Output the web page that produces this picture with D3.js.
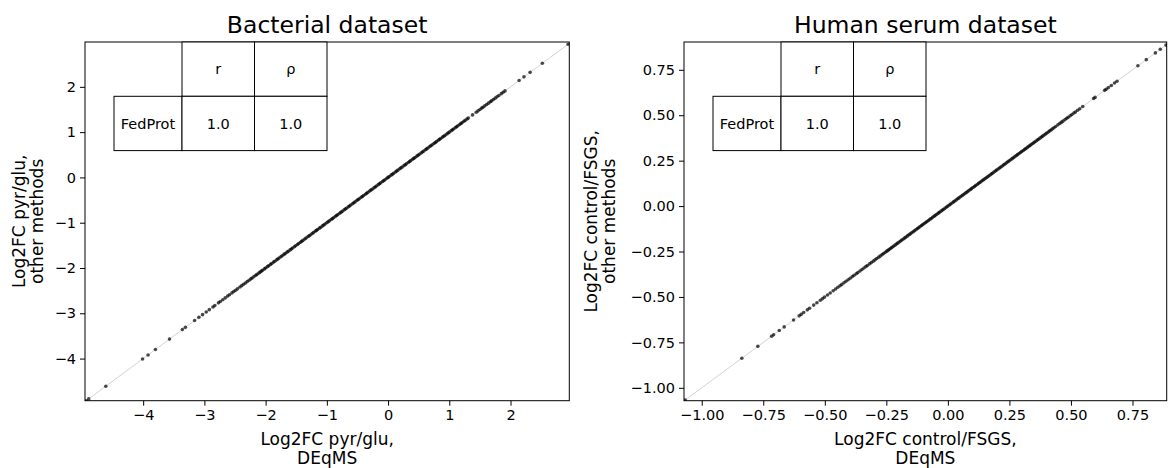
<!DOCTYPE html>
<html>
<head>
<meta charset="utf-8">
<script src="https://cdn.jsdelivr.net/npm/d3@7"></script>
<style>
  body { margin: 0; background: #fff; }
  svg { font-family: "DejaVu Sans", sans-serif; }
</style>
</head>
<body>
<div id="chart"></div>
<script>
// Log2FC values. FedProt reproduces DEqMS exactly (r = rho = 1.0),
// so the "other methods" values are the same numbers.
const bactDeqms = [
  -4.93, -4.89, -4.61, -4.01, -3.92, -3.80, -3.57, -3.36, -3.31, -3.16, -3.09, -3.03, -2.97, -2.92,
  -2.86, -2.83, -2.77, -2.74, -2.70, -2.66, -2.62, -2.59, -2.55, -2.52, -2.49, -2.46, -2.42, -2.39,
  -2.36, -2.33, -2.30, -2.27, -2.24, -2.22, -2.19, -2.16, -2.14, -2.11, -2.09, -2.07,
  -2.05, -2.02, -2.00, -1.97, -1.95, -1.92, -1.90, -1.87, -1.85, -1.82, -1.80, -1.78, -1.75, -1.73,
  -1.70, -1.68, -1.65, -1.63, -1.60, -1.58, -1.56, -1.53, -1.51, -1.48, -1.46, -1.43, -1.41, -1.39,
  -1.36, -1.34, -1.31, -1.29, -1.27, -1.24, -1.22, -1.19, -1.17, -1.15, -1.12, -1.10, -1.07, -1.05,
  -1.03, -1.00, -0.98, -0.96, -0.93, -0.91, -0.89, -0.86, -0.84, -0.82, -0.79, -0.77, -0.75, -0.72,
  -0.70, -0.68, -0.65, -0.63, -0.61, -0.58, -0.56, -0.54, -0.51, -0.49, -0.47, -0.44, -0.42, -0.40,
  -0.37, -0.35, -0.33, -0.30, -0.28, -0.26, -0.23, -0.21, -0.19, -0.16, -0.14, -0.12, -0.09, -0.07,
  -0.05, -0.02, 0.00, 0.02, 0.05, 0.07, 0.09, 0.12, 0.14, 0.16, 0.19, 0.21, 0.23, 0.26, 0.28, 0.30,
  0.33, 0.35, 0.37, 0.40, 0.42, 0.44, 0.47, 0.49, 0.51, 0.54, 0.56, 0.58, 0.61, 0.63, 0.65, 0.68,
  0.70, 0.72, 0.75, 0.77, 0.79, 0.82, 0.84, 0.86, 0.89, 0.91, 0.93, 0.96, 0.98, 1.00, 1.03, 1.05,
  1.07, 1.10, 1.12, 1.14, 1.17, 1.19, 1.21, 1.24, 1.26, 1.29, 1.31,
  1.38, 1.44, 1.47, 1.50, 1.53, 1.55, 1.58, 1.61, 1.64, 1.67, 1.69, 1.72, 1.75, 1.78, 1.81, 1.85,
  1.88, 1.91, 2.14, 2.22, 2.32, 2.52, 2.94
];
const bactOther = bactDeqms;

const humanDeqms = [
  -1.067, -0.837, -0.772, -0.716, -0.708, -0.685, -0.665, -0.627, -0.604, -0.596, -0.586, -0.571,
  -0.562, -0.545, -0.532, -0.518, -0.509, -0.501, -0.489, -0.478, -0.466, -0.456, -0.447, -0.438,
  -0.431, -0.422, -0.414, -0.405, -0.397, -0.388, -0.381, -0.372, -0.366, -0.357, -0.349, -0.341,
  -0.333, -0.327, -0.318, -0.311, -0.303, -0.296, -0.289, -0.281, -0.274, -0.267, -0.261, -0.254,
  -0.248, -0.243, -0.238, -0.232, -0.227, -0.221, -0.215, -0.209, -0.204, -0.198, -0.192, -0.187,
  -0.181, -0.175, -0.170, -0.164, -0.158, -0.153, -0.147, -0.141, -0.136, -0.130, -0.124, -0.119,
  -0.113, -0.107, -0.102, -0.096, -0.090, -0.085, -0.079, -0.073, -0.068, -0.062, -0.056, -0.051,
  -0.045, -0.039, -0.034, -0.028, -0.022, -0.017, -0.011, -0.005, 0.000, 0.006, 0.011, 0.017,
  0.023, 0.028, 0.034, 0.040, 0.045, 0.051, 0.057, 0.062, 0.068, 0.074, 0.079, 0.085, 0.091,
  0.096, 0.102, 0.108, 0.113, 0.119, 0.125, 0.130, 0.136, 0.142, 0.147, 0.153, 0.159, 0.164,
  0.170, 0.176, 0.181, 0.187, 0.193, 0.198, 0.204, 0.210, 0.215, 0.221, 0.227, 0.232, 0.238,
  0.244, 0.249, 0.255, 0.261, 0.266, 0.272, 0.278, 0.283, 0.289, 0.295, 0.300, 0.306, 0.312,
  0.317, 0.323, 0.329, 0.334, 0.340, 0.346, 0.351, 0.357, 0.363, 0.368, 0.374, 0.380, 0.385,
  0.391, 0.397, 0.402, 0.408, 0.414, 0.419, 0.425, 0.431, 0.438, 0.447, 0.455, 0.462, 0.468,
  0.476, 0.483, 0.489, 0.497, 0.504, 0.512, 0.518, 0.527, 0.536, 0.548, 0.592, 0.598, 0.637,
  0.643, 0.652, 0.664, 0.677, 0.687, 0.772, 0.806, 0.843, 0.863, 0.886
];
const humanOther = humanDeqms;

const bactTicks = [-4, -3, -2, -1, 0, 1, 2];
const humanTicks = [-1.00, -0.75, -0.50, -0.25, 0.00, 0.25, 0.50, 0.75];

const tableCols = ["", "r", "ρ"];
const tableRow = ["FedProt", "1.0", "1.0"];

const panels = [
  {
    title: "Bacterial dataset",
    x: bactDeqms, y: bactOther,
    xDomain: [-4.95, 2.96], yDomain: [-4.93, 2.99],
    ticks: bactTicks, fmt: d3.format("d"),
    xLabel: ["Log2FC pyr/glu,", "DEqMS"],
    yLabel: ["Log2FC pyr/glu,", "other methods"],
    yLabelX: 24.5,
    left: 85, right: 569.3
  },
  {
    title: "Human serum dataset",
    x: humanDeqms, y: humanOther,
    xDomain: [-1.072, 0.889], yDomain: [-1.071, 0.903],
    ticks: humanTicks, fmt: d3.format(".2f"),
    xLabel: ["Log2FC control/FSGS,", "DEqMS"],
    yLabel: ["Log2FC control/FSGS,", "other methods"],
    yLabelX: 596.5,
    left: 684, right: 1166.7
  }
];

const width = 1169, height = 468;
const plotTop = 42, plotBottom = 400.7;
const tickFont = "14.5px";

const svg = d3.select("#chart").append("svg")
  .attr("width", width)
  .attr("height", height);

panels.forEach((p, i) => {
  let xScale = d3.scaleLinear().domain(p.xDomain).range([p.left, p.right]);
  let yScale = d3.scaleLinear().domain(p.yDomain).range([plotBottom, plotTop]);

  let g = svg.append("g");

  g.append("clipPath").attr("id", "clip" + i)
    .append("rect")
      .attr("x", p.left).attr("y", plotTop)
      .attr("width", p.right - p.left).attr("height", plotBottom - plotTop);

  let plot = g.append("g").attr("clip-path", "url(#clip" + i + ")");

  // identity line
  let lo = Math.min(p.xDomain[0], p.yDomain[0]) - 1;
  let hi = Math.max(p.xDomain[1], p.yDomain[1]) + 1;
  plot.append("line")
    .attr("x1", xScale(lo)).attr("y1", yScale(lo))
    .attr("x2", xScale(hi)).attr("y2", yScale(hi))
    .attr("stroke", "#c8c8c8")
    .attr("stroke-width", 0.8);

  plot.selectAll("circle")
    .data(p.x.map((v, k) => [v, p.y[k]]))
    .enter().append("circle")
      .attr("cx", d => xScale(d[0]))
      .attr("cy", d => yScale(d[1]))
      .attr("r", 1.8)
      .attr("fill", "#000")
      .attr("fill-opacity", 0.7);

  // axes
  let xAxis = d3.axisBottom(xScale).tickValues(p.ticks).tickFormat(p.fmt).tickSize(5).tickPadding(4);
  let yAxis = d3.axisLeft(yScale).tickValues(p.ticks).tickFormat(p.fmt).tickSize(5).tickPadding(4);

  let xg = g.append("g")
    .attr("transform", "translate(0," + plotBottom + ")")
    .call(xAxis);
  let yg = g.append("g")
    .attr("transform", "translate(" + p.left + ",0)")
    .call(yAxis);

  [xg, yg].forEach(a => {
    a.select(".domain").remove();
    a.selectAll("line").attr("stroke", "#000").attr("stroke-width", 1);
    a.selectAll("text")
      .attr("fill", "#000")
      .style("font-size", tickFont)
      .style("font-family", "DejaVu Sans");
  });

  // frame
  g.append("rect")
    .attr("x", p.left).attr("y", plotTop)
    .attr("width", p.right - p.left).attr("height", plotBottom - plotTop)
    .attr("fill", "none")
    .attr("stroke", "#000")
    .attr("stroke-width", 1);

  let cx = (p.left + p.right) / 2;
  let cy = (plotTop + plotBottom) / 2;

  g.append("text")
    .attr("x", cx).attr("y", 33)
    .attr("text-anchor", "middle")
    .style("font-size", "23.5px")
    .text(p.title);

  g.selectAll(".xlab")
    .data(p.xLabel)
    .enter().append("text")
      .attr("x", cx)
      .attr("y", (d, k) => 445 + k * 19)
      .attr("text-anchor", "middle")
      .style("font-size", "17px")
      .text(d => d);

  g.selectAll(".ylab")
    .data(p.yLabel)
    .enter().append("text")
      .attr("transform", (d, k) => "translate(" + (p.yLabelX + k * 18.5) + "," + cy + ") rotate(-90)")
      .attr("text-anchor", "middle")
      .style("font-size", "17px")
      .text(d => d);

  // correlation table, anchored to the axes' top-left corner
  let tx = p.left + 29;
  let colW = [68, 72.5, 72.5];
  let rowH = 54.3;
  let table = g.append("g");
  let colX = [tx];
  colW.forEach((w, k) => colX.push(colX[k] + w));

  tableCols.forEach((c, k) => {
    if (k === 0) return;
    table.append("rect")
      .attr("x", colX[k]).attr("y", plotTop)
      .attr("width", colW[k]).attr("height", rowH)
      .attr("fill", "#fff").attr("stroke", "#000").attr("stroke-width", 1);
    table.append("text")
      .attr("x", colX[k] + colW[k] / 2).attr("y", plotTop + rowH / 2)
      .attr("dy", "0.36em")
      .attr("text-anchor", "middle")
      .style("font-size", tickFont)
      .text(c);
  });
  tableRow.forEach((c, k) => {
    table.append("rect")
      .attr("x", colX[k]).attr("y", plotTop + rowH)
      .attr("width", colW[k]).attr("height", rowH)
      .attr("fill", "#fff").attr("stroke", "#000").attr("stroke-width", 1);
    table.append("text")
      .attr("x", colX[k] + colW[k] / 2).attr("y", plotTop + rowH * 1.5)
      .attr("dy", "0.36em")
      .attr("text-anchor", "middle")
      .style("font-size", tickFont)
      .text(c);
  });
});
</script>
</body>
</html>
